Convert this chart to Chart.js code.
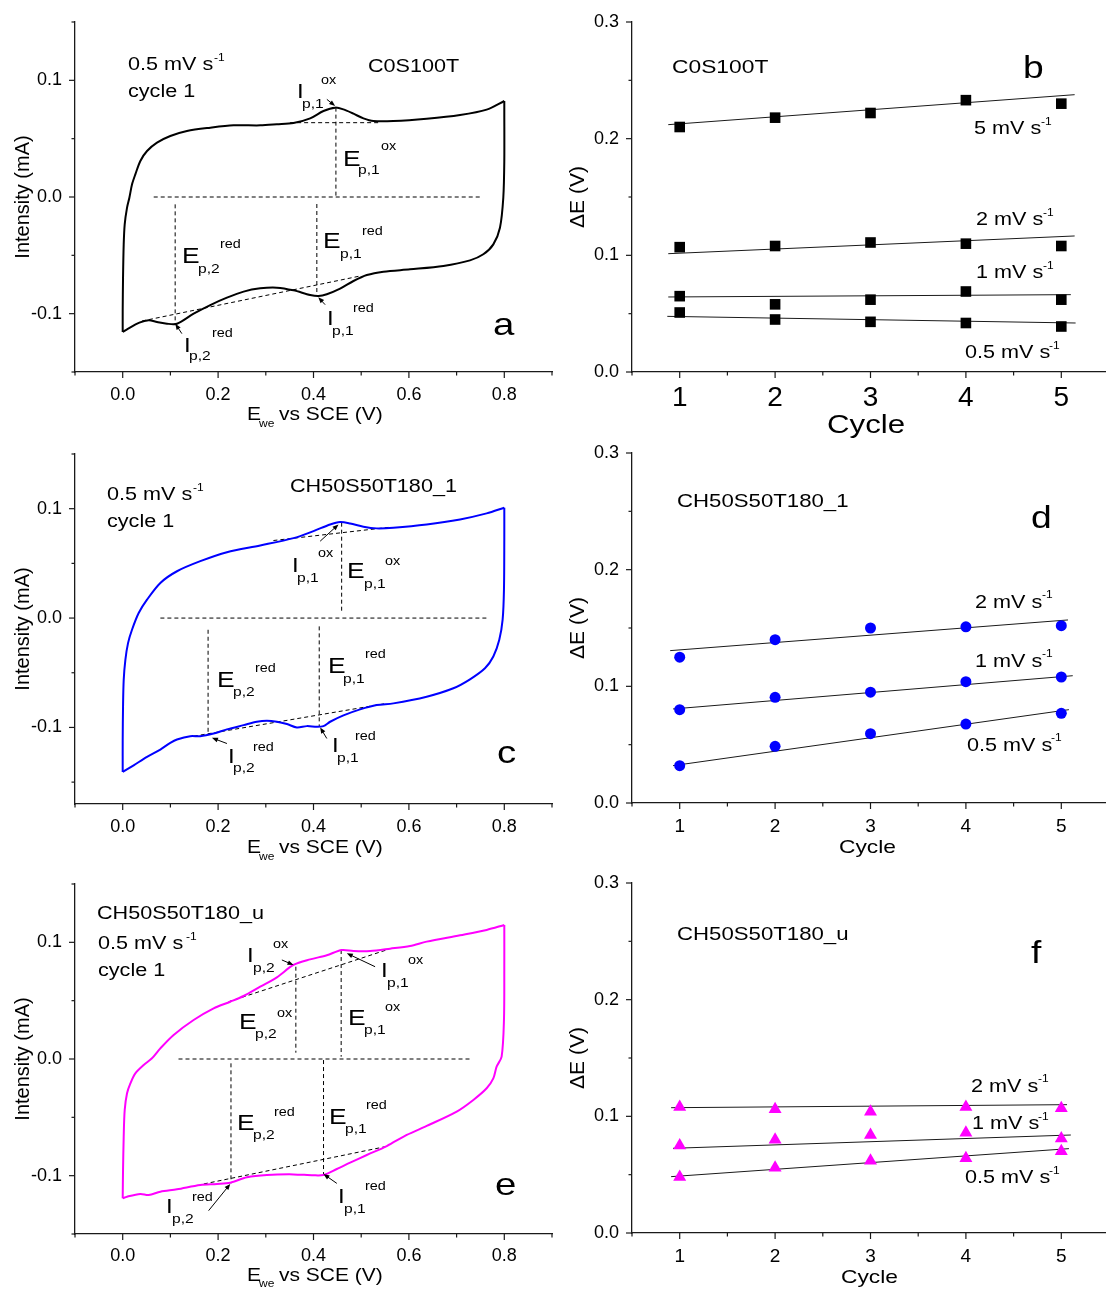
<!DOCTYPE html>
<html><head><meta charset="utf-8">
<script src="https://cdn.jsdelivr.net/npm/chart.js@4.4.1/dist/chart.umd.min.js"></script>
<style>
html,body{margin:0;padding:0;background:#fff;}
#wrap{position:relative;width:1106px;height:1290px;overflow:hidden;background:#fff;}
canvas{position:absolute;left:0;top:0;}
</style></head><body><div id="wrap">
<canvas id="pa" width="1110" height="1290"></canvas>
<canvas id="pb" width="1110" height="1290"></canvas>
<canvas id="pc" width="1110" height="1290"></canvas>
<canvas id="pd" width="1110" height="1290"></canvas>
<canvas id="pe" width="1110" height="1290"></canvas>
<canvas id="pf" width="1110" height="1290"></canvas>
</div>
<script>
// ---------- tick values / labels ----------
const cvXTickValues = [-0.1,0,0.1,0.2,0.3,0.4,0.5,0.6,0.7,0.8,0.9];
const cvXTickLabels = ['','0.0','','0.2','','0.4','','0.6','','0.8',''];
const cvYTickValues = [-0.15,-0.1,-0.05,0,0.05,0.1,0.15];
const cvYTickLabels = ['','-0.1','','0.0','','0.1',''];
const cycleTickValues = [0.5,1,1.5,2,2.5,3,3.5,4,4.5,5,5.5];
const cycleTickLabels = ['','1','','2','','3','','4','','5',''];
const dEYTickValues = [0,0.05,0.1,0.15,0.2,0.25,0.3];
const dEYTickLabels = ['0.0','','0.1','','0.2','','0.3'];

// ---------- panel a : C0S100T cyclic voltammogram ----------
const cvA_fwdE = [0,0,0.0007,0.0021,0.0042,0.0091,0.014,0.0196,0.0265,0.037,0.051,0.0719,0.0998,0.1347,0.1836,0.2325,0.2883,0.3232,0.3581,0.393,0.4209,0.4454,0.4628,0.4838,0.5047,0.5257,0.5675,0.6373,0.7072,0.763,0.8];
const cvA_fwdI = [-0.1157,-0.0977,-0.0691,-0.0406,-0.0234,-0.0091,-0.0006,0.0109,0.0194,0.0309,0.0394,0.0466,0.0523,0.0566,0.0594,0.0614,0.0614,0.0623,0.0634,0.0674,0.0737,0.0766,0.0751,0.0714,0.0674,0.0651,0.0651,0.0671,0.0703,0.0749,0.0823];
const cvA_revE = [0.8,0.8,0.8,0.7979,0.7909,0.777,0.756,0.7281,0.6723,0.6024,0.5466,0.5117,0.4838,0.4558,0.4279,0.4105,0.393,0.3581,0.3232,0.2883,0.2534,0.2185,0.1836,0.1487,0.1138,0.0928,0.0719,0.0545,0.035,0.0091,0];
const cvA_revI = [0.0823,0.0737,0.0309,-0.0006,-0.0263,-0.0406,-0.0491,-0.0543,-0.0591,-0.062,-0.064,-0.0669,-0.072,-0.0786,-0.0834,-0.0849,-0.084,-0.08,-0.0777,-0.0783,-0.0811,-0.0863,-0.0926,-0.1,-0.1086,-0.1086,-0.1071,-0.1057,-0.1077,-0.1134,-0.1157];
const guideA = [[0.065,0,0.749,0],[0.351,0.0637,0.54,0.0637],[0.447,0.0766,0.447,0],[0.0405,-0.1063,0.498,-0.0677],[0.110,-0.0063,0.110,-0.1077],[0.407,-0.006,0.407,-0.084]];
const arrowsA = [[0.428,0.0837,0.4454,0.078],[0.4244,-0.0923,0.410,-0.086],[0.124,-0.1171,0.1103,-0.1086]];

// ---------- panel c : CH50S50T180_1 ----------
const cvC_fwdE = [0,0,0.0007,0.0021,0.0056,0.0112,0.0195,0.0335,0.051,0.0789,0.1138,0.1627,0.2185,0.2883,0.3581,0.4,0.4349,0.4558,0.4768,0.5047,0.5326,0.5675,0.6373,0.7072,0.763,0.8];
const cvC_fwdI = [-0.1407,-0.1116,-0.081,-0.0566,-0.0382,-0.0229,-0.0107,0.0046,0.0168,0.0321,0.0428,0.052,0.0602,0.0664,0.0731,0.0795,0.0856,0.0878,0.0865,0.0835,0.082,0.0826,0.0856,0.0902,0.0957,0.1009];
const cvC_revE = [0.8,0.8,0.7993,0.7965,0.7895,0.777,0.7595,0.7281,0.6932,0.6373,0.5675,0.5326,0.4977,0.4628,0.4349,0.4209,0.407,0.386,0.3651,0.3442,0.3232,0.3023,0.2813,0.2534,0.2185,0.1906,0.1627,0.1417,0.1138,0.0998,0.0789,0.051,0.023,0];
const cvC_revI = [0.1009,0.0719,0.026,-0.0015,-0.0199,-0.0352,-0.0459,-0.056,-0.0642,-0.0719,-0.078,-0.0795,-0.0835,-0.089,-0.0948,-0.0988,-0.0994,-0.0988,-0.1,-0.0969,-0.0948,-0.0939,-0.0948,-0.0979,-0.1018,-0.1055,-0.108,-0.108,-0.111,-0.1141,-0.1202,-0.1269,-0.1346,-0.1407];
const guideC = [[0.079,0,0.763,0],[0.316,0.0709,0.557,0.0829],[0.459,0.0872,0.459,0.0061],[0.149,-0.108,0.554,-0.078],[0.179,-0.0107,0.179,-0.104],[0.412,-0.0076,0.412,-0.0988]];
const arrowsC = [[0.414,0.0703,0.4524,0.0856],[0.2185,-0.1147,0.1871,-0.1095],[0.4279,-0.1101,0.414,-0.1]];

// ---------- panel e : CH50S50T180_u ----------
const cvE_fwdE = [0,0.0007,0.0021,0.0042,0.0091,0.0161,0.0265,0.044,0.0614,0.0789,0.1068,0.1487,0.1906,0.2255,0.2534,0.2883,0.3232,0.3581,0.393,0.4279,0.4593,0.4838,0.5187,0.5606,0.6024,0.6373,0.7072,0.763,0.8];
const cvE_fwdI = [-0.1194,-0.0951,-0.0666,-0.0437,-0.0294,-0.0209,-0.0123,-0.0051,0.0006,0.0091,0.0206,0.0334,0.0434,0.0491,0.054,0.062,0.07,0.0806,0.0854,0.0889,0.0934,0.0926,0.0926,0.0946,0.0969,0.1006,0.106,0.1106,0.1149];
const cvE_revE = [0.8,0.8,0.7993,0.7944,0.7839,0.777,0.763,0.7351,0.7002,0.6373,0.5955,0.5536,0.5117,0.4768,0.4489,0.4209,0.4,0.3581,0.3023,0.2604,0.2255,0.1976,0.1627,0.1138,0.0789,0.0545,0.037,0.0091,0];
const cvE_revI = [0.1149,0.0763,0.0334,0.002,-0.0066,-0.0166,-0.0251,-0.0351,-0.0451,-0.0574,-0.0651,-0.0746,-0.0823,-0.0889,-0.0943,-0.0994,-0.0997,-0.0989,-0.0994,-0.1014,-0.106,-0.1071,-0.108,-0.1117,-0.1137,-0.1166,-0.1157,-0.118,-0.1194];
const guideE = [[0.117,0,0.728,0],[0.222,0.0491,0.557,0.094],[0.363,0.0791,0.363,0.0054],[0.458,0.0934,0.458,0.002],[0.17,-0.1071,0.557,-0.0746],[0.227,-0.0037,0.227,-0.1066],[0.421,-0.0009,0.421,-0.0986]];
const arrowsE = [[0.3337,0.0849,0.3581,0.0806],[0.5291,0.0791,0.4698,0.0906],[0.1801,-0.13,0.2255,-0.1071],[0.4489,-0.1066,0.4209,-0.0986]];

// ---------- ΔE vs cycle ----------
const cycles = [1,2,3,4,5];
const dE_b_5  = [0.210,0.218,0.222,0.233,0.230];
const dE_b_2  = [0.107,0.108,0.111,0.110,0.108];
const dE_b_1  = [0.065,0.058,0.062,0.069,0.062];
const dE_b_05 = [0.051,0.045,0.043,0.042,0.039];
const fitB = [[0.88,0.212,5.14,0.2377],[0.88,0.1014,5.14,0.1166],[0.88,0.0643,5.1,0.0663],[0.87,0.0477,5.15,0.042]];
const dE_d_2  = [0.125,0.140,0.150,0.151,0.152];
const dE_d_1  = [0.080,0.0906,0.095,0.104,0.108];
const dE_d_05 = [0.032,0.0486,0.0594,0.0677,0.0769];
const fitD = [[0.9,0.1306,5.07,0.1569],[0.93,0.0806,5.12,0.1091],[0.93,0.032,5.08,0.080]];
const dE_f_2  = [0.108,0.106,0.104,0.108,0.107];
const dE_f_1  = [0.075,0.080,0.084,0.086,0.081];
const dE_f_05 = [0.048,0.056,0.062,0.064,0.070];
const fitF = [[0.91,0.1074,5.06,0.110],[0.93,0.0726,5.1,0.084],[0.91,0.0483,5.08,0.0723]];

// ---------- rendering helpers ----------
const FONT = "'Liberation Sans', Arial, Helvetica, sans-serif";
const SX = 1.2;
const CW = 1110, CH = 1290;
Chart.defaults.font.family = FONT;
Chart.defaults.color = '#000';

const xy = (xs, ys) => xs.map((x, i) => ({x: x, y: ys[i]}));
const seg = s => [{x: s[0], y: s[1]}, {x: s[2], y: s[3]}];

function curve(xs, ys, color) {
  return {data: xy(xs, ys), showLine: true, borderColor: color, borderWidth: 2, pointRadius: 0, tension: 0.3, fill: false};
}
function dashed(s) {
  return {data: seg(s), showLine: true, borderColor: '#000', borderWidth: 1, borderDash: [4, 3], pointRadius: 0, tension: 0};
}
function fitLine(s) {
  return {data: seg(s), showLine: true, borderColor: '#1a1a1a', borderWidth: 1, pointRadius: 0, tension: 0};
}
function markers(ys, style, color, r) {
  return {data: xy(cycles, ys), showLine: false, pointStyle: style, pointRadius: r, pointHoverRadius: r,
          backgroundColor: color, borderColor: color, borderWidth: 0};
}

function makeScale(o) {
  const horiz = o.position === 'bottom';
  return {
    type: 'linear', position: o.position, min: o.min, max: o.max,
    afterBuildTicks: s => { s.ticks = o.values.map(v => ({value: v})); },
    afterFit: s => {
      if (horiz) s.height = o.size; else s.width = o.size;
      s.paddingLeft = 0; s.paddingRight = 0; s.paddingTop = 0; s.paddingBottom = 0;
    },
    ticks: {autoSkip: false, maxRotation: 0, minRotation: 0, padding: o.pad, color: '#000',
            font: {size: o.fs, family: FONT}, callback: (v, i) => o.labels[i]},
    grid: {display: true, drawOnChartArea: false, drawTicks: false},
    border: {display: true, color: '#1a1a1a', width: 1.3},
    title: o.title ? {display: true, text: o.title, color: '#000', font: {size: o.tfs, family: FONT},
                      padding: {top: o.tpad, bottom: 0}} : {display: false}
  };
}

function drawText(ctx, t, x, y, size) {
  ctx.save();
  ctx.font = size + 'px ' + FONT;
  ctx.fillStyle = '#000';
  ctx.textBaseline = 'alphabetic';
  ctx.textAlign = 'left';
  ctx.translate(x, y);
  ctx.scale(SX, 1);
  ctx.fillText(t, 0, 0);
  ctx.restore();
}
function drawArrow(ctx, x1, y1, x2, y2) {
  const a = Math.atan2(y2 - y1, x2 - x1), L = 6, w = 2.4;
  ctx.save();
  ctx.strokeStyle = '#000'; ctx.fillStyle = '#000'; ctx.lineWidth = 1;
  ctx.beginPath(); ctx.moveTo(x1, y1); ctx.lineTo(x2 - L * 0.8 * Math.cos(a), y2 - L * 0.8 * Math.sin(a)); ctx.stroke();
  ctx.beginPath(); ctx.moveTo(x2, y2);
  ctx.lineTo(x2 - L * Math.cos(a) + w * Math.sin(a), y2 - L * Math.sin(a) - w * Math.cos(a));
  ctx.lineTo(x2 - L * Math.cos(a) - w * Math.sin(a), y2 - L * Math.sin(a) + w * Math.cos(a));
  ctx.closePath(); ctx.fill();
  ctx.restore();
}

// annotation texts: [text, left x, baseline y, font size] in page pixels
const DECOR = {
  pa: {arrows: arrowsA, texts: [
    ['0.5 mV s',128,70,18],['-1',214,61,10],['cycle 1',128,97,18],['C0S100T',368,72,18],
    ['I',297,98,20],['p,1',302,108,13],['ox',321,84,12],
    ['E',343,166,22],['p,1',358,174,13],['ox',381,150,12],
    ['E',182,263,22],['p,2',198,273,13],['red',220,248,12],
    ['E',323,248,22],['p,1',340,258,13],['red',362,235,12],
    ['I',327,325,20],['p,1',332,335,13],['red',353,312,12],
    ['I',184,352,20],['p,2',189,360,13],['red',212,337,12],
    ['a',493,335,32],
    ['E',247,420,17.5],['we',259,427,10],['vs SCE (V)',279,420,17.5]]},
  pb: {arrows: [], texts: [
    ['C0S100T',672,73,19],['b',1023,78,31],
    ['5 mV s',974,134,18],['-1',1041,125,10],
    ['2 mV s',976,225,18],['-1',1043,216,10],
    ['1 mV s',976,278,18],['-1',1043,269,10],
    ['0.5 mV s',965,358,18],['-1',1049,349,10],
    ['Cycle',827,433,26]]},
  pc: {arrows: arrowsC, texts: [
    ['0.5 mV s',107,500,18],['-1',193,491,10],['cycle 1',107,527,18],['CH50S50T180_1',290,492,18],
    ['I',292,572,20],['p,1',297,582,13],['ox',318,557,12],
    ['E',347,578,22],['p,1',364,588,13],['ox',385,565,12],
    ['E',217,687,22],['p,2',233,696,13],['red',255,672,12],
    ['E',328,673,22],['p,1',343,683,13],['red',365,658,12],
    ['I',228,763,20],['p,2',233,772,13],['red',253,751,12],
    ['I',332,752,20],['p,1',337,762,13],['red',355,740,12],
    ['c',497,763,32],
    ['E',247,853,17.5],['we',259,860,10],['vs SCE (V)',279,853,17.5]]},
  pd: {arrows: [], texts: [
    ['CH50S50T180_1',677,507,18.5],['d',1031,528,31],
    ['2 mV s',975,608,18],['-1',1042,598,10],
    ['1 mV s',975,667,18],['-1',1042,657,10],
    ['0.5 mV s',967,751,18],['-1',1051,741,10],
    ['Cycle',839,853,19]]},
  pe: {arrows: arrowsE, texts: [
    ['CH50S50T180_u',97,919,18],['0.5 mV s',98,949,18],['-1',186,940,10],['cycle 1',98,976,18],
    ['I',247,962,20],['p,2',253,972,13],['ox',273,948,12],
    ['I',381,977,20],['p,1',387,987,13],['ox',408,964,12],
    ['E',239,1029,22],['p,2',255,1038,13],['ox',277,1017,12],
    ['E',348,1025,22],['p,1',364,1034,13],['ox',385,1011,12],
    ['E',237,1130,22],['p,2',253,1139,13],['red',274,1116,12],
    ['E',329,1124,22],['p,1',345,1133,13],['red',366,1109,12],
    ['I',166,1213,20],['p,2',172,1223,13],['red',192,1201,12],
    ['I',338,1203,20],['p,1',344,1213,13],['red',365,1190,12],
    ['e',495,1195,32],
    ['E',247,1281,17.5],['we',259,1287,10],['vs SCE (V)',279,1281,17.5]]},
  pf: {arrows: [], texts: [
    ['CH50S50T180_u',677,940,18.5],['f',1031,963,31],
    ['2 mV s',971,1092,18],['-1',1038,1082,10],
    ['1 mV s',972,1129,18],['-1',1038,1120,10],
    ['0.5 mV s',965,1183,18],['-1',1049,1174,10],
    ['Cycle',841,1283,19]]}
};

const decorPlugin = {
  id: 'decor',
  afterDraw(chart) {
    const cfg = DECOR[chart.canvas.id];
    if (!cfg) return;
    const ctx = chart.ctx, sx = chart.scales.x, sy = chart.scales.y;
    ctx.save();
    ctx.strokeStyle = '#1a1a1a'; ctx.lineWidth = 1.2;
    sx.ticks.forEach(t => {
      const p = sx.getPixelForValue(t.value), len = t.label ? 6 : 3.5;
      ctx.beginPath(); ctx.moveTo(p, sx.top); ctx.lineTo(p, sx.top + len); ctx.stroke();
    });
    sy.ticks.forEach(t => {
      const p = sy.getPixelForValue(t.value), len = t.label ? 6 : 3.5;
      ctx.beginPath(); ctx.moveTo(sy.right - len, p); ctx.lineTo(sy.right, p); ctx.stroke();
    });
    ctx.restore();
    cfg.arrows.forEach(a => drawArrow(ctx, sx.getPixelForValue(a[0]), sy.getPixelForValue(a[1]),
                                           sx.getPixelForValue(a[2]), sy.getPixelForValue(a[3])));
    cfg.texts.forEach(t => drawText(ctx, t[0], t[1], t[2], t[3]));
  }
};
Chart.register(decorPlugin);

function makeChart(id, area, xs, ys, datasets) {
  return new Chart(document.getElementById(id), {
    type: 'scatter',
    data: {datasets: datasets},
    options: {
      responsive: false, animation: false, devicePixelRatio: 1, events: [],
      layout: {autoPadding: false,
               padding: {left: area.L - ys.size, top: area.T, right: CW - area.R, bottom: CH - area.B - xs.size}},
      plugins: {legend: {display: false}, tooltip: {enabled: false}},
      scales: {x: makeScale(xs), y: makeScale(ys)}
    }
  });
}

const cvX = pad => ({position: 'bottom', min: -0.1, max: 0.9, values: cvXTickValues, labels: cvXTickLabels, size: 40, pad: pad, fs: 18});
const cvY = min => ({position: 'left', min: min, max: 0.15, values: cvYTickValues, labels: cvYTickLabels, size: 75, pad: 13, fs: 18,
                     title: 'Intensity (mA)', tfs: 20, tpad: 11});
const cyX = (fs, pad) => ({position: 'bottom', min: 0.5, max: 5.5, values: cycleTickValues, labels: cycleTickLabels, size: 40, pad: pad, fs: fs});
const dEY = () => ({position: 'left', min: 0, max: 0.3, values: dEYTickValues, labels: dEYTickLabels, size: 71, pad: 13, fs: 18,
                    title: 'ΔE (V)', tfs: 21, tpad: 5});

makeChart('pa', {L: 75, T: 22, R: 552, B: 372}, cvX(12), cvY(-0.15),
  [curve(cvA_fwdE, cvA_fwdI, '#000'), curve(cvA_revE, cvA_revI, '#000')].concat(guideA.map(dashed)));
makeChart('pc', {L: 75, T: 454, R: 552, B: 804}, cvX(12), cvY(-0.17),
  [curve(cvC_fwdE, cvC_fwdI, '#0000ff'), curve(cvC_revE, cvC_revI, '#0000ff')].concat(guideC.map(dashed)));
makeChart('pe', {L: 75, T: 884, R: 552, B: 1234}, cvX(11), cvY(-0.15),
  [curve(cvE_fwdE, cvE_fwdI, '#ff00ff'), curve(cvE_revE, cvE_revI, '#ff00ff')].concat(guideE.map(dashed)));

makeChart('pb', {L: 632, T: 22, R: 1109, B: 372}, cyX(28, 9), dEY(),
  [markers(dE_b_5, 'rect', '#000', 7.5), markers(dE_b_2, 'rect', '#000', 7.5), markers(dE_b_1, 'rect', '#000', 7.5), markers(dE_b_05, 'rect', '#000', 7.5)]
  .concat(fitB.map(fitLine)));
makeChart('pd', {L: 632, T: 453, R: 1109, B: 803}, cyX(19, 12), dEY(),
  [markers(dE_d_2, 'circle', '#0000ff', 5.5), markers(dE_d_1, 'circle', '#0000ff', 5.5), markers(dE_d_05, 'circle', '#0000ff', 5.5)]
  .concat(fitD.map(fitLine)));
makeChart('pf', {L: 632, T: 883, R: 1109, B: 1233}, cyX(19, 12), dEY(),
  [markers(dE_f_2, 'triangle', '#ff00ff', 7.5), markers(dE_f_1, 'triangle', '#ff00ff', 7.5), markers(dE_f_05, 'triangle', '#ff00ff', 7.5)]
  .concat(fitF.map(fitLine)));
</script>
</body></html>
